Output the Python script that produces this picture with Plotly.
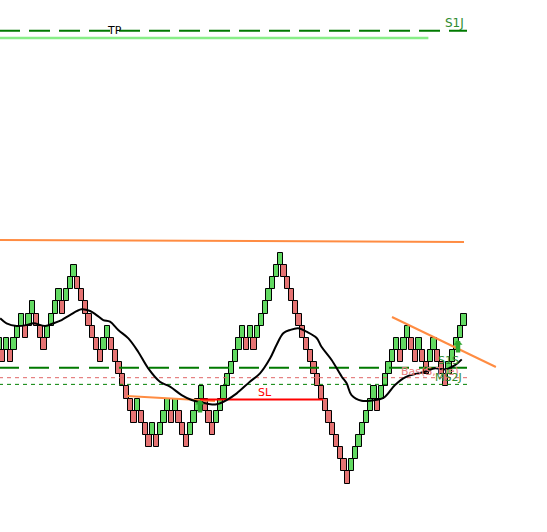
import plotly.graph_objects as go

# ---------------- data ----------------
# renko bricks: lower edge of each brick (in brick units) and direction (1 up / -1 down)
brick_low = [0, -1, 0, -1, 0, 1, 2, 1, 2, 3, 2, 1, 0, 1, 2, 3, 4, 3, 4, 5,
             6, 5, 4, 3, 2, 1, 0, -1, 0, 1, 0, -1, -2, -3, -4, -5, -6, -5, -6, -7,
             -8, -7, -8, -7, -6, -5, -6, -5, -6, -7, -8, -7, -6, -5, -4, -5, -6, -7, -6, -5,
             -4, -3, -2, -1, 0, 1, 0, 1, 0, 1, 2, 3, 4, 5, 6, 7, 6, 5, 4, 3,
             2, 1, 0, -1, -2, -3, -4, -5, -6, -7, -8, -9, -10, -11, -10, -9, -8, -7, -6, -5,
             -4, -5, -4, -3, -2, -1, 0, -1, 0, 1, 0, -1, 0, -1, -2, -1, 0, -1, -2, -3,
             -2, -1, 0, 1, 2]
brick_dir = [1, -1, 1, -1, 1, 1, 1, -1, 1, 1, -1, -1, -1, 1, 1, 1, 1, -1, 1, 1,
             1, -1, -1, -1, -1, -1, -1, -1, 1, 1, -1, -1, -1, -1, -1, -1, -1, 1, -1, -1,
             -1, 1, -1, 1, 1, 1, -1, 1, -1, -1, -1, 1, 1, 1, 1, -1, -1, -1, 1, 1,
             1, 1, 1, 1, 1, 1, -1, 1, -1, 1, 1, 1, 1, 1, 1, 1, -1, -1, -1, -1,
             -1, -1, -1, -1, -1, -1, -1, -1, -1, -1, -1, -1, -1, -1, 1, 1, 1, 1, 1, 1,
             1, -1, 1, 1, 1, 1, 1, -1, 1, 1, -1, -1, 1, -1, -1, 1, 1, -1, -1, -1,
             1, 1, 1, 1, 1]

# moving average (brick index, value)
ma_idx = [0.3, 2.0, 4.7, 7.4, 9.2, 12.3, 14.5, 16.7, 18.9, 22.0, 24.3, 26.0, 27.8, 29.6,
          31.8, 34.5, 37.1, 39.8, 42.9, 45.6, 48.7, 51.4, 53.6, 56.3, 58.0, 60.7, 63.4,
          66.9, 69.6, 72.3, 74.0, 75.8, 77.6, 79.8, 82.0, 84.7, 86.0, 88.7, 91.4, 92.7,
          94.0, 96.7, 99.4, 102.5, 105.6, 108.3, 110.9, 113.6, 116.3, 118.9, 121.6, 123.4]
ma_val = [2.61, 2.20, 1.98, 2.06, 2.20, 1.98, 2.20, 2.47, 2.88, 3.35, 3.21, 2.88, 2.47, 2.33,
          1.65, 0.96, -0.14, -1.51, -2.61, -3.02, -3.71, -4.12, -4.28, -4.47, -4.47, -4.12, -3.57,
          -2.61, -1.92, -0.68, 0.41, 1.38, 1.65, 1.79, 1.51, 0.99, 0.27, -0.82, -2.20, -2.74,
          -3.71, -4.18, -4.16, -3.95, -2.88, -2.25, -1.98, -1.79, -1.51, -1.59, -1.24, -0.77]

# horizontal levels
tp_level = 26.3
tp_shadow_level = 25.7
s1s_level = -1.46
bas_level = -2.28
ms2j_level = -2.83
sl_level = -4.08
sl_start, sl_end = 53.6, 86.4
line_end = 124.8

# trend lines: (x0, y0, x1, y1)
trend_lines = [
    (0.27, 9.06, 124.0, 8.9),
    (34.1, -3.79, 57.6, -4.2),
    (104.8, 2.72, 132.5, -1.4),
]

# buy signals (brick index, level of arrow tip)
signal_idx = [53.6, 122.4]
signal_level = [-4.12, 0.82]

GREEN = "#62D962"
RED = "#E57373"

fig = go.Figure()

# bricks
fig.add_trace(go.Bar(
    x=list(range(len(brick_low))),
    y=[1] * len(brick_low),
    base=brick_low,
    width=1.35,
    marker=dict(color=[GREEN if d > 0 else RED for d in brick_dir],
                line=dict(color="black", width=1)),
    hoverinfo="skip",
    showlegend=False,
))

def hline(y, x0, x1, color, width, dash="solid"):
    fig.add_trace(go.Scatter(x=[x0, x1], y=[y, y], mode="lines",
                             line=dict(color=color, width=width, dash=dash),
                             hoverinfo="skip", showlegend=False))

hline(tp_shadow_level, 0, 114.5, "#88EE88", 2.5)
hline(tp_level, 0, line_end, "#007A00", 2, "21px,9px")
hline(s1s_level, 0, line_end, "#007A00", 2, "20px,10px")
hline(bas_level, 0, line_end, "#E06666", 1, "4px,4px")
hline(ms2j_level, 0, line_end, "#008000", 1, "4px,4px")

for (x0, y0, x1, y1) in trend_lines:
    fig.add_trace(go.Scatter(x=[x0, x1], y=[y0, y1], mode="lines",
                             line=dict(color="#FF8C42", width=2),
                             hoverinfo="skip", showlegend=False))

hline(sl_level, sl_start, sl_end, "#FF0000", 2)

# moving average
fig.add_trace(go.Scatter(x=ma_idx, y=ma_val, mode="lines",
                         line=dict(color="black", width=2, shape="spline", smoothing=1.0),
                         hoverinfo="skip", showlegend=False))

ann = []
for xi, yi in zip(signal_idx, signal_level):
    ann.append(dict(x=xi, y=yi, xref="x", yref="y", ax=0, ay=14, text="",
                    showarrow=True, arrowhead=1, arrowwidth=4.5, arrowsize=0.34,
                    arrowcolor="#2EA62E"))

FONT = "DejaVu Sans"
ann += [
    dict(x=30.9, y=tp_level, text="TP", showarrow=False, xanchor="center", yanchor="middle",
         font=dict(family=FONT, size=11, color="black")),
    dict(x=124.6, y=tp_level, text="S1J", showarrow=False, xanchor="right", yanchor="bottom",
         yshift=-1, font=dict(family=FONT, size=12, color="#2E8B2E")),
    dict(x=70.9, y=sl_level, text="SL", showarrow=False, xanchor="center", yanchor="bottom",
         yshift=-1, font=dict(family=FONT, size=11, color="#FF0000")),
    dict(x=123.3, y=s1s_level, text="S1S", showarrow=False, xanchor="right", yanchor="bottom",
         yshift=-1, font=dict(family=FONT, size=11, color="#2E8B2E")),
    dict(x=123.3, y=bas_level, text="Bas(S,Tue)", showarrow=False, xanchor="right", yanchor="bottom",
         yshift=-2, font=dict(family=FONT, size=11, color="#E88080")),
    dict(x=124.0, y=ms2j_level, text="MS2J", showarrow=False, xanchor="right", yanchor="bottom",
         yshift=-2, font=dict(family=FONT, size=11, color="#2E8B2E")),
]

fig.update_layout(
    width=547, height=532,
    margin=dict(l=0, r=0, t=0, b=0),
    paper_bgcolor="white", plot_bgcolor="white",
    bargap=0,
    hovermode=False,
    annotations=ann,
    xaxis=dict(range=[0.267, 146.13], visible=False, showgrid=False, zeroline=False),
    yaxis=dict(range=[-14.99, 28.83], visible=False, showgrid=False, zeroline=False),
)

fig.write_html("out.html", config={"displayModeBar": False},
               post_script="document.body.style.margin='0';")
